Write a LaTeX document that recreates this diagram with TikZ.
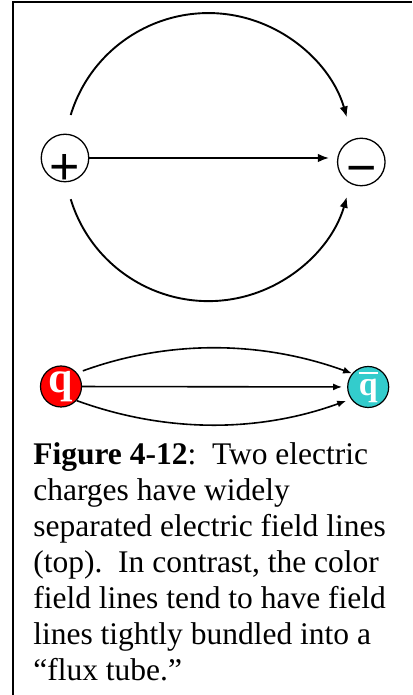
\documentclass[tikz,border=0pt]{standalone}
\usepackage{fontspec}
\setmainfont{Liberation Serif}
\newfontfamily\signfont{Liberation Sans}
\usetikzlibrary{arrows.meta,calc,positioning}

\definecolor{qred}{HTML}{FF0000}
\definecolor{qteal}{HTML}{33CCCC}

% q with a bar over it
\newcommand{\barq}{\vbox{\hrule height 2.2pt\kern 5pt\hbox{\textbf{q}}}}

\begin{document}
\begin{tikzpicture}[x=1pt, y=1pt, >={Latex[length=11pt,width=8.5pt]}, semithick]

    \tikzstyle{charge}     = [circle, draw=black, line width=1.3pt, minimum size=47.5pt, inner sep=0pt]
    \tikzstyle{chargesign} = [anchor=base, inner sep=0pt, font=\signfont\fontsize{52}{52}\selectfont]
    \tikzstyle{quark}      = [circle, draw=black, line width=1.2pt, minimum size=41pt, inner sep=0pt, text=white]
    \tikzstyle{fieldline}  = [line width=1.9pt, ->]
    \tikzstyle{tubeline}   = [line width=1.6pt, -{Latex[length=9pt,width=7pt]}]

    \useasboundingbox (0,0) rectangle (412,695);

    % frame
    \draw[line width=2pt] (13,0) -- (13,693) -- (412,693);

    % electric charges
    \node (pos)  [charge]                                   at (65,537) {};
    \node (neg)  [charge, right=247.5pt of pos, yshift=-4pt]            {};
    \node (possign) [chargesign] at ([yshift=-27pt]pos.center) {+};
    \node (negsign) [chargesign] at ([yshift=-24pt]neg.center) {−};

    \path[->, line width=1.5pt]  (pos)  edge [shorten >=8pt]  (pos -| neg.west);
    \draw[fieldline] (pos.center) ++(5.7,43)  arc[start angle=163,  end angle=16,  radius=144];
    \draw[fieldline] (pos.center) ++(5.7,-41.2) arc[start angle=-163, end angle=-16, radius=144];

    % colour charges
    \node (q)    [quark, fill=qred]                      at (61,308.5) {\fontsize{44}{44}\selectfont\textbf{q}};
    \node (qbar) [quark, fill=qteal, right=265pt of q, yshift=-0.5pt] {\fontsize{34}{34}\selectfont\barq};

    \path[tubeline]  (q)     edge [shorten >=5pt]                                  (qbar);
    \path[tubeline]  (q.40)  edge [out=20, in=160, looseness=0.9, shorten <=6pt]   (qbar.140);
    \path[tubeline]  (q.-42) edge [out=-20, in=-160, looseness=0.9, shorten >=5pt] (qbar.-145);

    % caption (base is the last line)
    \node (caption) [anchor=base west, inner sep=0pt, align=left, font=\fontsize{31.5}{36}\selectfont] at (33,14)
        {\textbf{Figure 4-12}:\ \ Two electric\\
         charges have widely\\
         separated electric field lines\\
         (top).\ \ In contrast, the color\\
         field lines tend to have field\\
         lines tightly bundled into a\\
         “flux tube.”};

\end{tikzpicture}
\end{document}
